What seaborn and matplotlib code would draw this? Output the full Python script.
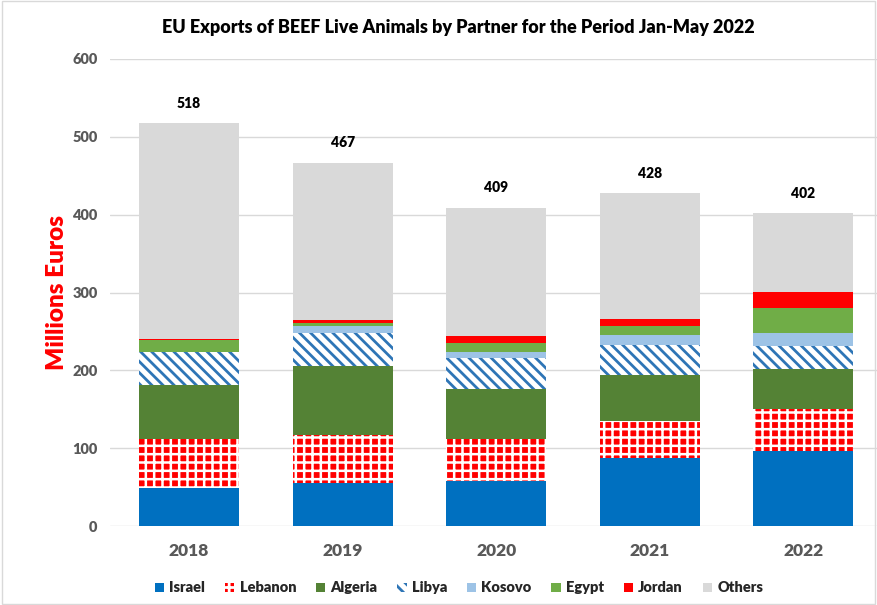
import matplotlib
matplotlib.use("Agg")
import matplotlib.pyplot as plt
import matplotlib.patches as mpatches
import seaborn as sns
import numpy as np
import pandas as pd

years = ["2018", "2019", "2020", "2021", "2022"]
totals = [518, 467, 409, 428, 402]
israel = [48.5, 55.8, 58.4, 87.1, 97.0]
lebanon = [63.5, 61.4, 53.6, 47.2, 53.6]
algeria = [69.5, 88.0, 64.0, 59.7, 51.5]
libya = [41.5, 43.0, 40.0, 38.2, 29.2]
kosovo = [0.5, 8.7, 7.7, 12.8, 16.7]
egypt = [15.0, 3.4, 11.6, 11.7, 32.3]
jordan = [2.0, 4.0, 8.6, 9.4, 20.1]
partners = ["Israel", "Lebanon", "Algeria", "Libya", "Kosovo", "Egypt", "Jordan", "Others"]

series = {"Israel": israel, "Lebanon": lebanon, "Algeria": algeria, "Libya": libya,
          "Kosovo": kosovo, "Egypt": egypt, "Jordan": jordan}
others = [t - sum(v[i] for v in series.values()) for i, t in enumerate(totals)]
series["Others"] = others

styles = {
    "Israel": dict(color="#0070C0", hatch=None, edge="#0070C0", hlw=2.0),
    "Lebanon": dict(color="#FF0000", hatch="++", edge="white", hlw=1.8),
    "Algeria": dict(color="#548235", hatch=None, edge="#548235", hlw=2.0),
    "Libya": dict(color="white", hatch="\\\\\\", edge="#2E75B6", hlw=2.0),
    "Kosovo": dict(color="#9DC3E6", hatch=None, edge="#9DC3E6", hlw=2.0),
    "Egypt": dict(color="#70AD47", hatch=None, edge="#70AD47", hlw=2.0),
    "Jordan": dict(color="#FF0000", hatch=None, edge="#FF0000", hlw=2.0),
    "Others": dict(color="#D9D9D9", hatch=None, edge="#D9D9D9", hlw=2.0),
}

sns.set_style("white")
plt.rcParams["font.family"] = ["Lato", "DejaVu Sans"]
plt.rcParams["hatch.linewidth"] = 2.0
W = "heavy"

fig = plt.figure(figsize=(8.77, 6.05), dpi=100)
ax = fig.add_axes([110 / 877, 79 / 605, 767 / 877, 467 / 605])

bottom = np.zeros(len(years))
handles = []
for p in partners:
    vals = np.array(series[p], dtype=float)
    st = styles[p]
    df = pd.DataFrame({"year": years, "value": vals})
    with plt.rc_context({"hatch.linewidth": st["hlw"]}):
        sns.barplot(data=df, x="year", y="value", ax=ax, bottom=bottom, width=0.65,
                    color=st["color"], saturation=1, hatch=st["hatch"],
                    edgecolor=st["edge"], linewidth=0, errorbar=None, zorder=3)
        handles.append(mpatches.Patch(facecolor=st["color"], hatch=st["hatch"],
                                      edgecolor=st["edge"], linewidth=0, label=p))
    bottom = bottom + vals

for i, t in enumerate(totals):
    ax.text(i, t + 17, str(t), ha="center", va="bottom", fontsize=10,
            fontweight=W, color="black")

ax.set_xlim(-0.515, 4.48)
ax.set_ylim(0, 600)
ax.set_yticks(range(0, 601, 100))
ax.yaxis.grid(True, color="#D9D9D9", linewidth=1, zorder=0)
ax.set_axisbelow(True)
for s in ax.spines.values():
    s.set_visible(False)
ax.tick_params(axis="both", length=0)
ax.tick_params(axis="y", labelsize=10.5, labelcolor="#595959", pad=9)
ax.tick_params(axis="x", labelsize=12.5, labelcolor="#595959", pad=12)
for lab in ax.get_yticklabels() + ax.get_xticklabels():
    lab.set_fontweight(W)
ax.set_xlabel("")
ax.set_ylabel("Millions Euros", color="#FF0000", fontsize=17.5, fontweight=W)
ax.yaxis.set_label_coords((68 - 110) / 767, 0.5)

fig.text(458 / 877, 1 - 28 / 605, "EU Exports of BEEF Live Animals by Partner for the Period Jan-May 2022",
         ha="center", va="center", fontsize=13, fontweight=W, color="black")

leg = fig.legend(handles=handles, loc="center", bbox_to_anchor=(459 / 877, 1 - 588 / 605),
                 ncol=8, frameon=False, handlelength=0.65, handleheight=0.65,
                 handletextpad=0.35, columnspacing=1.35,
                 prop={"weight": W, "size": 10.5})

fig.patches.append(mpatches.Rectangle((0.002, 0.002), 0.996, 0.996, transform=fig.transFigure,
                                      fill=False, edgecolor="#D9D9D9", linewidth=1))

fig.savefig("out.png", dpi=100)
